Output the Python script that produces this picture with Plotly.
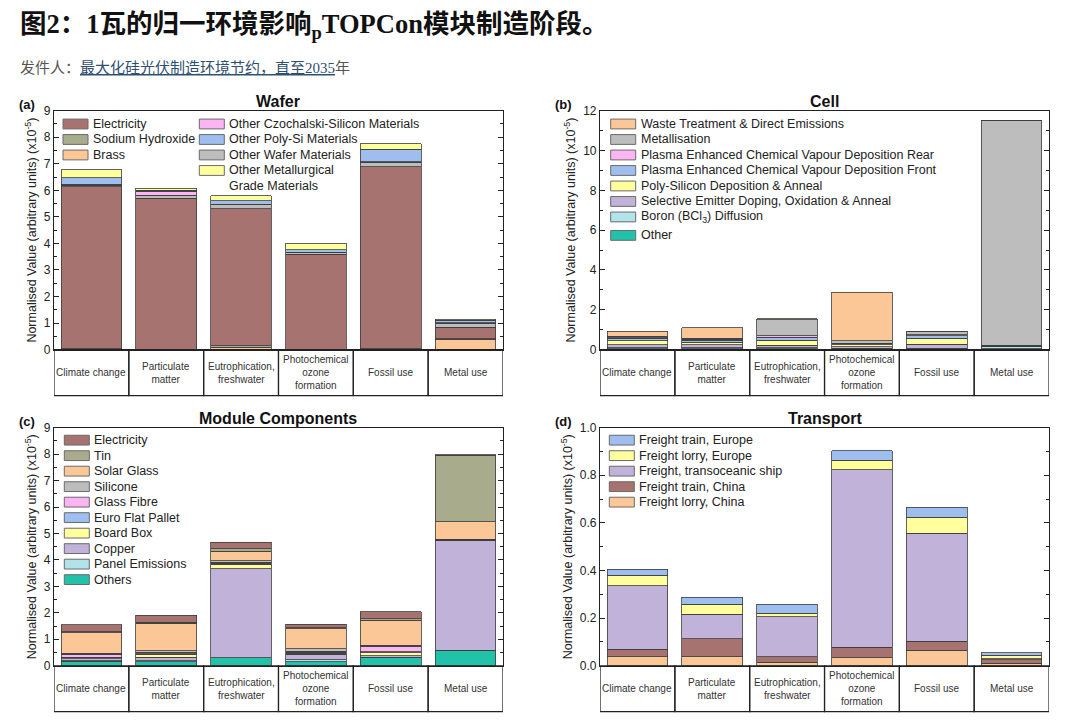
import plotly.graph_objects as go

# ---------------- data ----------------
categories = ["Climate change", "Particulate matter", "Eutrophication, freshwater",
              "Photochemical ozone formation", "Fossil use", "Metal use"]
category_labels = ["Climate change", "Particulate<br>matter", "Eutrophication,<br>freshwater",
                   "Photochemical<br>ozone<br>formation", "Fossil use", "Metal use"]

# (a) Wafer, stack bottom -> top
wafer_brass = [0.01, 0.01, 0.08, 0.01, 0.01, 0.38]
wafer_sodium_hydroxide = [0.02, 0.01, 0.06, 0.01, 0.02, 0.03]
wafer_electricity = [6.10, 5.68, 5.16, 3.58, 6.85, 0.43]
wafer_other_wafer = [0.06, 0.12, 0.16, 0.05, 0.18, 0.16]
wafer_other_cz = [0.03, 0.15, 0.02, 0.02, 0.02, 0.01]
wafer_other_poly = [0.25, 0.03, 0.12, 0.10, 0.47, 0.10]
wafer_other_mg = [0.30, 0.08, 0.19, 0.23, 0.21, 0.03]

# (b) Cell, stack bottom -> top
cell_other = [0.03, 0.03, 0.03, 0.02, 0.02, 0.05]
cell_boron = [0.06, 0.05, 0.06, 0.04, 0.04, 0.10]
cell_selective_emitter = [0.16, 0.17, 0.14, 0.08, 0.20, 0.02]
cell_poly_si = [0.20, 0.12, 0.24, 0.10, 0.30, 0.01]
cell_pecvd_front = [0.12, 0.10, 0.14, 0.05, 0.14, 0.02]
cell_pecvd_rear = [0.03, 0.04, 0.08, 0.03, 0.04, 0.01]
cell_metallisation = [0.08, 0.06, 0.80, 0.12, 0.16, 11.30]
cell_waste = [0.24, 0.53, 0.05, 2.43, 0.02, 0.02]

# (c) Module components, stack bottom -> top
mod_others = [0.17, 0.16, 0.30, 0.15, 0.31, 0.58]
mod_panel_emissions = [0.01, 0.02, 0.01, 0.08, 0.01, 0.00]
mod_copper = [0.08, 0.15, 3.36, 0.20, 0.05, 4.14]
mod_board_box = [0.05, 0.10, 0.17, 0.05, 0.12, 0.02]
mod_euro_pallet = [0.02, 0.03, 0.04, 0.03, 0.04, 0.02]
mod_glass_fibre = [0.10, 0.05, 0.03, 0.03, 0.20, 0.01]
mod_silicone = [0.05, 0.06, 0.06, 0.10, 0.04, 0.02]
mod_solar_glass = [0.77, 1.03, 0.36, 0.75, 0.95, 0.66]
mod_tin = [0.04, 0.05, 0.10, 0.05, 0.05, 2.50]
mod_electricity = [0.26, 0.25, 0.23, 0.13, 0.27, 0.02]

# (d) Transport, stack bottom -> top
tr_lorry_china = [0.038, 0.038, 0.014, 0.034, 0.066, 0.011]
tr_train_china = [0.031, 0.075, 0.023, 0.044, 0.037, 0.014]
tr_ship = [0.268, 0.103, 0.169, 0.746, 0.453, 0.005]
tr_lorry_europe = [0.043, 0.042, 0.014, 0.039, 0.068, 0.014]
tr_train_europe = [0.025, 0.030, 0.038, 0.041, 0.042, 0.011]

# ---------------- styles ----------------
C_BROWN = "#a67370"
C_OLIVE = "#a9ac8c"
C_PEACH = "#fcc797"
C_PINK = "#fbb5f3"
C_BLUE = "#9ebef0"
C_GRAY = "#bdbdbd"
C_YELLOW = "#ffff9e"
C_LAV = "#c1b2d9"
C_CYAN = "#b3e3ea"
C_TEAL = "#21c2a9"

FONT = "Liberation Sans, Arial, sans-serif"
W, H = 1080, 724

# series: (name, values, color, legend column, legend rank)
panels = [
    dict(tag="(a)", tag_off=37, title="Wafer", ax="", dx=[0.050, 0.4657], dy=[0.5175, 0.854],
         yr=[0, 9], dtick=1, minor=0.5, fmt="",
         legend_cols=[(63, 119.3), (199.3, 119.3)],
         series=[
             ("Brass", wafer_brass, C_PEACH, 0, 3),
             ("Sodium Hydroxide", wafer_sodium_hydroxide, C_OLIVE, 0, 2),
             ("Electricity", wafer_electricity, C_BROWN, 0, 1),
             ("Other Wafer Materials", wafer_other_wafer, C_GRAY, 1, 3),
             ("Other Czochalski-Silicon Materials", wafer_other_cz, C_PINK, 1, 1),
             ("Other Poly-Si Materials", wafer_other_poly, C_BLUE, 1, 2),
             ("Other Metallurgical<br>Grade Materials", wafer_other_mg, C_YELLOW, 1, 4),
         ]),
    dict(tag="(b)", tag_off=47, title="Cell", ax="2", dx=[0.5556, 0.9713], dy=[0.5175, 0.854],
         yr=[0, 12], dtick=2, minor=1, fmt="",
         legend_cols=[(610.7, 119.3)],
         series=[
             ("Other", cell_other, C_TEAL, 0, 8),
             ("Boron (BCl<sub>3</sub>) Diffusion", cell_boron, C_CYAN, 0, 7),
             ("Selective Emitter Doping, Oxidation & Anneal", cell_selective_emitter, C_LAV, 0, 6),
             ("Poly-Silicon Deposition & Anneal", cell_poly_si, C_YELLOW, 0, 5),
             ("Plasma Enhanced Chemical Vapour Deposition Front", cell_pecvd_front, C_BLUE, 0, 4),
             ("Plasma Enhanced Chemical Vapour Deposition Rear", cell_pecvd_rear, C_PINK, 0, 3),
             ("Metallisation", cell_metallisation, C_GRAY, 0, 2),
             ("Waste Treatment & Direct Emissions", cell_waste, C_PEACH, 0, 1),
         ]),
    dict(tag="(c)", tag_off=37, title="Module Components", ax="3", dx=[0.050, 0.4657], dy=[0.0722, 0.4075],
         yr=[0, 9], dtick=1, minor=0.5, fmt="",
         legend_cols=[(64.3, 441.7)],
         series=[
             ("Others", mod_others, C_TEAL, 0, 10),
             ("Panel Emissions", mod_panel_emissions, C_CYAN, 0, 9),
             ("Copper", mod_copper, C_LAV, 0, 8),
             ("Board Box", mod_board_box, C_YELLOW, 0, 7),
             ("Euro Flat Pallet", mod_euro_pallet, C_BLUE, 0, 6),
             ("Glass Fibre", mod_glass_fibre, C_PINK, 0, 5),
             ("Silicone", mod_silicone, C_GRAY, 0, 4),
             ("Solar Glass", mod_solar_glass, C_PEACH, 0, 3),
             ("Tin", mod_tin, C_OLIVE, 0, 2),
             ("Electricity", mod_electricity, C_BROWN, 0, 1),
         ]),
    dict(tag="(d)", tag_off=47, title="Transport", ax="4", dx=[0.5556, 0.9713], dy=[0.0722, 0.4075],
         yr=[0, 1.0], dtick=0.2, minor=0.1, fmt=".1f",
         legend_cols=[(609.3, 441.7)],
         series=[
             ("Freight lorry, China", tr_lorry_china, C_PEACH, 0, 5),
             ("Freight train, China", tr_train_china, C_BROWN, 0, 4),
             ("Freight, transoceanic ship", tr_ship, C_LAV, 0, 3),
             ("Freight lorry, Europe", tr_lorry_europe, C_YELLOW, 0, 2),
             ("Freight train, Europe", tr_train_europe, C_BLUE, 0, 1),
         ]),
]

ROW = 15.8           # legend row pitch (px)
SW_W, SW_H = 25, 10  # legend key size (px)
LEG_FONT = 12.5

fig = go.Figure()
shapes = []
annotations = []
layout_axes = {}


def px_x(v):
    return v / W


def px_y(v):
    return 1 - v / H


for p in panels:
    xa = "x" + p["ax"]
    ya = "y" + p["ax"]
    for name, vals, col, lcol, rank in p["series"]:
        fig.add_trace(go.Bar(
            x=categories, y=vals, name=name.replace("<br>", " "), xaxis=xa, yaxis=ya,
            marker=dict(color=col, line=dict(color="#3c3c3c", width=0.8)),
            width=0.81, showlegend=False,
        ))
    layout_axes["xaxis" + p["ax"]] = dict(
        domain=p["dx"], anchor=ya, type="category", categoryorder="array",
        categoryarray=categories, range=[-0.5, 5.5], showticklabels=False,
        ticks="", showline=True, linecolor="#222", linewidth=1.2, mirror=True,
        showgrid=False, zeroline=False, fixedrange=True)
    layout_axes["yaxis" + p["ax"]] = dict(
        domain=p["dy"], anchor=xa, range=p["yr"], dtick=p["dtick"], tick0=0,
        tickformat=p["fmt"], ticks="inside", ticklen=5, tickwidth=1, tickcolor="#222",
        minor=dict(dtick=p["minor"], ticks="inside", ticklen=3, tickcolor="#222", showgrid=False),
        showline=True, linecolor="#222", linewidth=1.2, mirror="ticks",
        showgrid=False, zeroline=False,
        tickfont=dict(family=FONT, size=12, color="#222"),
        title=dict(text="Normalised Value (arbitrary units) (x10<sup>-5</sup>)",
                   font=dict(family=FONT, size=12.5, color="#222"), standoff=4),
    )
    # category boxes under the axis
    for i, lab in enumerate(category_labels):
        shapes.append(dict(type="rect", xref=xa, yref=ya + " domain",
                           x0=i - 0.5, x1=i + 0.5, y0=-0.193, y1=0,
                           line=dict(color="#222", width=1.2), fillcolor="rgba(0,0,0,0)"))
        annotations.append(dict(text=lab, xref=xa, yref=ya + " domain", x=categories[i],
                                y=-0.0965, showarrow=False, xanchor="center", yanchor="middle",
                                font=dict(family=FONT, size=10, color="#333")))
    # panel title
    annotations.append(dict(text="<b>" + p["title"] + "</b>", xref=xa + " domain", yref=ya + " domain",
                            x=0.5, y=1, xanchor="center", yanchor="bottom", yshift=-1, showarrow=False,
                            font=dict(family=FONT, size=16, color="#111")))
    # panel tag
    annotations.append(dict(text="<b>" + p["tag"] + "</b>", xref="paper", yref=ya + " domain",
                            x=(p["dx"][0] * W - p["tag_off"]) / W, y=1, xanchor="left", yanchor="bottom",
                            yshift=-3, showarrow=False,
                            font=dict(family=FONT, size=13, color="#111")))
    # legend (keys + labels), ordered by rank inside each column
    for ci, (sx, sy) in enumerate(p["legend_cols"]):
        entries = sorted([s for s in p["series"] if s[3] == ci], key=lambda s: s[4])
        yc = sy
        prev_sub = False
        for name, vals, col, lcol, rank in entries:
            if prev_sub:
                yc += 3
            nlines = name.count("<br>") + 1
            shapes.append(dict(type="rect", xref="paper", yref="paper",
                               x0=px_x(sx), x1=px_x(sx + SW_W),
                               y0=px_y(yc + SW_H / 2), y1=px_y(yc - SW_H / 2),
                               line=dict(color="#6a6a6a", width=1), fillcolor=col))
            annotations.append(dict(text=name, xref="paper", yref="paper",
                                    x=px_x(sx + SW_W + 3), y=px_y(yc + ROW * (nlines - 1) / 2),
                                    xanchor="left", yanchor="middle", align="left", showarrow=False,
                                    font=dict(family=FONT, size=LEG_FONT, color="#222")))
            prev_sub = "<sub>" in name
            yc += ROW * nlines

# figure title & source line
annotations.append(dict(
    text="<b>图2：1瓦的归一环境影响<sub>p</sub>TOPCon模块制造阶段。</b>",
    xref="paper", yref="paper", x=18 / W, y=1 - 19 / H, xanchor="left", yanchor="middle",
    showarrow=False, font=dict(family="Liberation Serif, Noto Sans CJK SC", size=26.5, color="#111")))
annotations.append(dict(
    text="发件人：<span style='color:#2f4f6f'><u>最大化硅光伏制造环境节约，直至2035</u></span>年",
    xref="paper", yref="paper", x=18 / W, y=1 - 62 / H, xanchor="left", yanchor="middle",
    showarrow=False, font=dict(family="Liberation Serif, Noto Sans CJK SC", size=15, color="#555")))

fig.update_layout(
    width=W, height=H, margin=dict(l=0, r=0, t=0, b=0),
    paper_bgcolor="white", plot_bgcolor="white",
    barmode="stack", showlegend=False,
    shapes=shapes, annotations=annotations,
    **layout_axes,
)

fig.write_html("out.html")
